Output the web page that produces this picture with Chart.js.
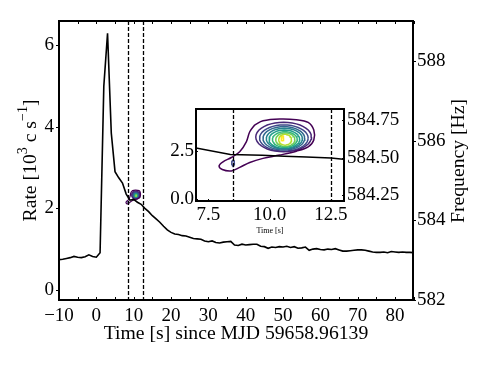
<!DOCTYPE html>
<html>
<head>
<meta charset="utf-8">
<script src="https://cdn.jsdelivr.net/npm/chart.js@4.4.1/dist/chart.umd.min.js"></script>
<style>
  html, body { margin: 0; padding: 0; background: #fff; }
  #wrap { position: relative; width: 491px; height: 368px; }
  #main { position: absolute; left: 0; top: 0; }
  #inset { position: absolute; left: 140px; top: 100px; }
</style>
</head>
<body>
<div id="wrap">
  <canvas id="main" width="491" height="368"></canvas>
  <canvas id="inset" width="340" height="140"></canvas>
</div>
<script>
// light curve, 1 s bins
const times = [-10, -9, -8, -7, -6, -5, -4, -3, -2, -1, 0, 1, 2, 3, 4, 5, 6, 7, 8, 9,
  10, 11, 12, 13, 14, 15, 16, 17, 18, 19, 20, 21, 22, 23, 24, 25, 26, 27, 28, 29,
  30, 31, 32, 33, 34, 35, 36, 37, 38, 39, 40, 41, 42, 43, 44, 45, 46, 47, 48, 49,
  50, 51, 52, 53, 54, 55, 56, 57, 58, 59, 60, 61, 62, 63, 64, 65, 66, 67, 68, 69,
  70, 71, 72, 73, 74, 75, 76, 77, 78, 79, 80, 81, 82, 83, 84, 85];
const rates = [0.74, 0.75, 0.77, 0.79, 0.82, 0.80, 0.79, 0.81, 0.86, 0.82, 0.80, 0.91, 5.0, 6.3, 3.85, 2.9, 2.75, 2.62, 2.35, 2.2,
  2.22, 2.15, 2.1, 2.0, 1.92, 1.82, 1.74, 1.66, 1.56, 1.47, 1.41, 1.37, 1.36, 1.33, 1.32, 1.29, 1.26, 1.25, 1.24, 1.2,
  1.18, 1.2, 1.16, 1.15, 1.17, 1.18, 1.19, 1.1, 1.09, 1.12, 1.1, 1.11, 1.12, 1.12, 1.07, 1.06, 1.02, 1.05, 1.04, 1.06,
  1.05, 1.07, 1.04, 1.06, 1.02, 1.03, 1.05, 0.97, 1.0, 1.01, 0.99, 0.98, 1.0, 0.99, 1.01, 0.98, 0.95, 0.95, 0.96, 0.97,
  0.98, 0.98, 0.97, 0.95, 0.93, 0.92, 0.92, 0.93, 0.91, 0.94, 0.93, 0.92, 0.93, 0.92, 0.92, 0.91];
const timeTicks = [-10, 0, 10, 20, 30, 40, 50, 60, 70, 80];
const rateTicks = [0, 2, 4, 6];
const freqTicks = [582, 584, 586, 588];
const markTimes = [8.5, 12.5];

// inset
const insetTimes = [7, 8.4, 9.7, 10.6, 11.5, 12.5, 13];
const insetRates = [2.67, 2.33, 2.29, 2.24, 2.2, 2.15, 2.08];
const insetTimeTicks = [7.5, 10, 12.5];
const insetRateTicks = [0, 2.5];
const insetFreqTicks = [584.25, 584.5, 584.75];

// outermost contour, traced
const outerT = [9.39, 9.73, 10.41, 11.09, 11.57, 11.80, 11.80, 11.57, 11.09, 10.41, 9.73, 9.19, 8.78, 8.44, 8.07, 7.94, 8.10, 8.44, 8.78, 9.05, 9.19, 9.39];
const outerF = [584.717, 584.745, 584.757, 584.752, 584.734, 584.683, 584.617, 584.572, 584.543, 584.517, 584.495, 584.468, 584.435, 584.412, 584.421, 584.445, 584.472, 584.501, 584.539, 584.605, 584.672, 584.717];
// inner contours (centre and half-widths)
const ringT = [10.57, 10.58, 10.58, 10.6, 10.6, 10.62, 10.64, 10.63, 10.52, 8.51];
const ringF = [584.637, 584.63, 584.628, 584.626, 584.622, 584.62, 584.619, 584.619, 584.628, 584.465];
const ringRt = [1.135, 0.99, 0.85, 0.735, 0.625, 0.505, 0.39, 0.26, 0.055, 0.055];
const ringRf = [0.098, 0.087, 0.078, 0.069, 0.061, 0.052, 0.045, 0.036, 0.016, 0.018];
const ringColors = ["#482878", "#3e4989", "#31688e", "#26828e", "#1f9e89", "#35b779", "#6ece58", "#b5de2b", "#fde725", "#3e4989"];
const outerColor = "#440154";

Chart.defaults.font.family = "'Liberation Serif', 'DejaVu Serif', serif";
Chart.defaults.color = "#000";

function ellipse(cx, cy, rx, ry) {
  const pts = [];
  for (let i = 0; i <= 40; i++) {
    const a = (i / 40) * 2 * Math.PI;
    pts.push({ x: cx + rx * Math.cos(a), y: cy + ry * Math.sin(a) });
  }
  return pts;
}

function contourSets(axis, lw) {
  const sets = [{
    data: outerT.map((t, i) => ({ x: t, y: outerF[i] })),
    yAxisID: axis, borderColor: outerColor, borderWidth: lw,
    showLine: true, pointRadius: 0, tension: 0.35, fill: false
  }];
  ringT.forEach((t, i) => {
    sets.push({
      data: ellipse(t, ringF[i], ringRt[i], ringRf[i]),
      yAxisID: axis, borderColor: ringColors[i], borderWidth: lw,
      showLine: true, pointRadius: 0, tension: 0, fill: false
    });
  });
  return sets;
}

function fixTicks(list) {
  return (s) => { s.ticks = list.map((v) => ({ value: v })); };
}

// fixed axis size, no extra room for overflowing labels
function fixSize(key, size) {
  return (s) => {
    s[key] = size;
    s.paddingTop = 0; s.paddingBottom = 0;
    s.paddingLeft = 0; s.paddingRight = 0;
  };
}

function hideGrid() {
  return { display: false, drawTicks: false };
}

function drawTitle(ctx, x, y, rot, pieces, size) {
  const supSize = Math.round(size * 0.7);
  let total = 0;
  pieces.forEach((p) => {
    ctx.font = (p[1] ? supSize : size) + "px 'Liberation Serif', serif";
    total += ctx.measureText(p[0]).width;
  });
  ctx.save();
  ctx.translate(x, y);
  ctx.rotate(rot);
  ctx.fillStyle = "#000";
  ctx.textBaseline = "middle";
  ctx.textAlign = "left";
  let cx = -total / 2;
  pieces.forEach((p) => {
    ctx.font = (p[1] ? supSize : size) + "px 'Liberation Serif', serif";
    ctx.fillText(p[0], cx, p[1] ? -size * 0.38 : 0);
    cx += ctx.measureText(p[0]).width;
  });
  ctx.restore();
}

function dashLines(chart) {
  const ctx = chart.ctx, a = chart.chartArea, x = chart.scales.x;
  ctx.save();
  ctx.strokeStyle = "#000";
  ctx.lineWidth = 1.3;
  ctx.setLineDash([4, 2]);
  markTimes.forEach((t) => {
    const px = Math.round(x.getPixelForValue(t)) + 0.5;
    ctx.beginPath();
    ctx.moveTo(px, a.top);
    ctx.lineTo(px, a.bottom);
    ctx.stroke();
  });
  ctx.restore();
}

const mainDecor = {
  id: "mainDecor",
  afterDatasetsDraw(chart) {
    dashLines(chart);
  },
  afterDraw(chart) {
    const ctx = chart.ctx, a = chart.chartArea;
    const x = chart.scales.x, y = chart.scales.y, y2 = chart.scales.y2;
    ctx.save();
    ctx.strokeStyle = "#000";
    ctx.lineWidth = 1;
    ctx.beginPath();
    for (let v = -10; v <= 85; v += 5) {
      const px = Math.round(x.getPixelForValue(v)) + 0.5;
      ctx.moveTo(px, a.bottom); ctx.lineTo(px, a.bottom - 3);
      ctx.moveTo(px, a.top); ctx.lineTo(px, a.top + 3);
    }
    rateTicks.forEach((v) => {
      const py = Math.round(y.getPixelForValue(v)) + 0.5;
      ctx.moveTo(a.left, py); ctx.lineTo(a.left - 3, py);
    });
    freqTicks.forEach((v) => {
      const py = Math.round(y2.getPixelForValue(v)) + 0.5;
      ctx.moveTo(a.right, py); ctx.lineTo(a.right + 3, py);
    });
    ctx.stroke();
    ctx.lineWidth = 2;
    ctx.strokeRect(a.left, a.top, a.right - a.left, a.bottom - a.top);
    ctx.restore();
    drawTitle(ctx, (a.left + a.right) / 2, 334, 0, [["Time [s] since MJD 59658.96139", 0]], 19.7);
    drawTitle(ctx, 31, 160.5, -Math.PI / 2, [["Rate [10", 0], ["3", 1], [" c s", 0], ["\u22121", 1], ["]", 0]], 19.7);
    drawTitle(ctx, 459, 161, -Math.PI / 2, [["Frequency [Hz]", 0]], 19.7);
  }
};

const insetDecor = {
  id: "insetDecor",
  beforeDatasetsDraw(chart) {
    const ctx = chart.ctx, a = chart.chartArea;
    ctx.save();
    ctx.fillStyle = "#fff";
    ctx.fillRect(a.left, a.top, a.right - a.left, a.bottom - a.top);
    ctx.restore();
  },
  afterDatasetsDraw(chart) {
    dashLines(chart);
  },
  afterDraw(chart) {
    const ctx = chart.ctx, a = chart.chartArea;
    const x = chart.scales.x, yr = chart.scales.yr, yf = chart.scales.yf;
    ctx.save();
    ctx.strokeStyle = "#000";
    ctx.lineWidth = 1;
    ctx.beginPath();
    insetTimeTicks.forEach((v) => {
      const px = Math.round(x.getPixelForValue(v)) + 0.5;
      ctx.moveTo(px, a.bottom); ctx.lineTo(px, a.bottom - 2);
    });
    insetRateTicks.forEach((v) => {
      const py = Math.round(yr.getPixelForValue(v)) + 0.5;
      ctx.moveTo(a.left, py); ctx.lineTo(a.left + 2, py);
    });
    insetFreqTicks.forEach((v) => {
      const py = Math.round(yf.getPixelForValue(v)) + 0.5;
      ctx.moveTo(a.right, py); ctx.lineTo(a.right - 2, py);
    });
    ctx.stroke();
    ctx.lineWidth = 2;
    ctx.strokeRect(a.left, a.top, a.right - a.left, a.bottom - a.top);
    ctx.restore();
    drawTitle(ctx, (a.left + a.right) / 2, 131, 0, [["Time [s]", 0]], 8);
  }
};

const tickFont = { size: 19 };

new Chart(document.getElementById("main"), {
  type: "scatter",
  data: {
    datasets: [{
      data: times.map((t, i) => ({ x: t, y: rates[i] })),
      yAxisID: "y", borderColor: "#000", borderWidth: 1.6,
      showLine: true, pointRadius: 0, tension: 0, fill: false
    }].concat(contourSets("y2", 1.2))
  },
  options: {
    responsive: false,
    animation: false,
    events: [],
    layout: { padding: { top: 21, left: 0, right: 0, bottom: 0 } },
    plugins: { legend: { display: false }, tooltip: { enabled: false } },
    scales: {
      x: {
        type: "linear", min: -10, max: 84.8,
        afterFit: fixSize("height", 68),
        afterBuildTicks: fixTicks(timeTicks),
        grid: hideGrid(), border: { display: false },
        ticks: { padding: 5, font: tickFont, maxRotation: 0,
          callback: (v) => (v < 0 ? "\u2212" + Math.abs(v) : String(v)) }
      },
      y: {
        type: "linear", position: "left", min: -0.25, max: 6.6,
        afterFit: fixSize("width", 59),
        afterBuildTicks: fixTicks(rateTicks),
        grid: hideGrid(), border: { display: false },
        ticks: { padding: 5, font: tickFont }
      },
      y2: {
        type: "linear", position: "right", min: 582, max: 589,
        afterFit: fixSize("width", 78),
        afterBuildTicks: fixTicks(freqTicks),
        grid: hideGrid(), border: { display: false },
        ticks: { padding: 4, font: tickFont }
      }
    }
  },
  plugins: [mainDecor]
});

new Chart(document.getElementById("inset"), {
  type: "scatter",
  data: {
    datasets: [{
      data: insetTimes.map((t, i) => ({ x: t, y: insetRates[i] })),
      yAxisID: "yr", borderColor: "#000", borderWidth: 1.5,
      showLine: true, pointRadius: 0, tension: 0, fill: false
    }].concat(contourSets("yf", 1.5))
  },
  options: {
    responsive: false,
    animation: false,
    events: [],
    layout: { padding: { top: 9, left: 0, right: 0, bottom: 0 } },
    plugins: { legend: { display: false }, tooltip: { enabled: false } },
    scales: {
      x: {
        type: "linear", min: 7.0, max: 13.03,
        afterFit: fixSize("height", 39),
        afterBuildTicks: fixTicks(insetTimeTicks),
        grid: hideGrid(), border: { display: false },
        ticks: { padding: 3, font: tickFont, maxRotation: 0, callback: (v) => v.toFixed(1) }
      },
      yr: {
        type: "linear", position: "left", min: -0.09, max: 4.69,
        afterFit: fixSize("width", 56),
        afterBuildTicks: fixTicks(insetRateTicks),
        grid: hideGrid(), border: { display: false },
        ticks: { padding: 2, font: tickFont, callback: (v) => v.toFixed(1) }
      },
      yf: {
        type: "linear", position: "right", min: 584.212, max: 584.823,
        afterFit: fixSize("width", 136),
        afterBuildTicks: fixTicks(insetFreqTicks),
        grid: hideGrid(), border: { display: false },
        ticks: { padding: 3, font: tickFont, callback: (v) => v.toFixed(2) }
      }
    }
  },
  plugins: [insetDecor]
});
</script>
</body>
</html>
